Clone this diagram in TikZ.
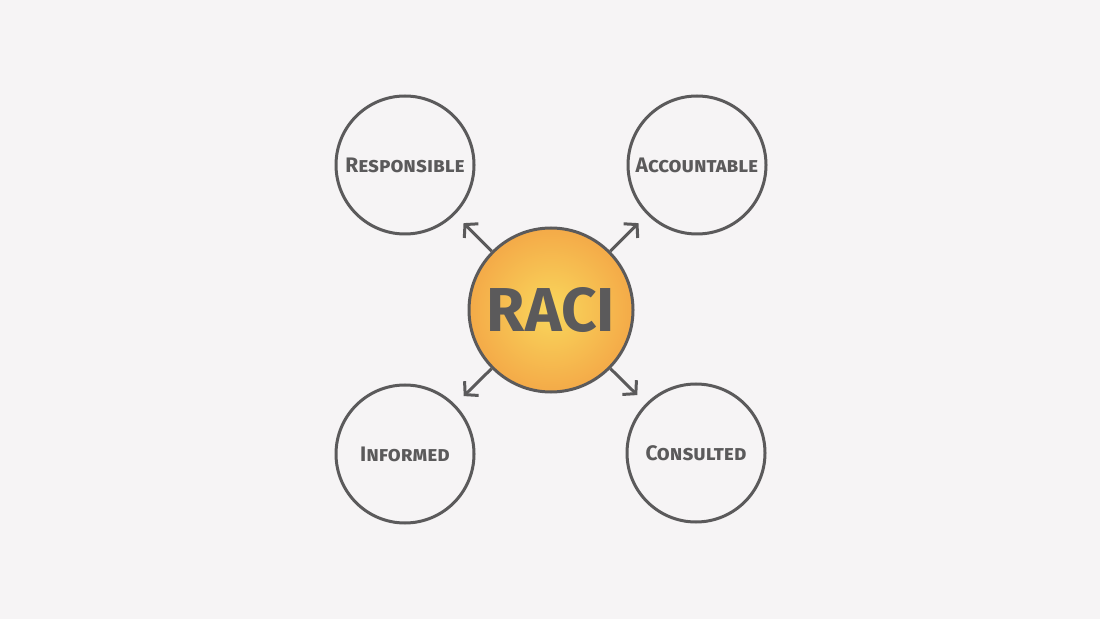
\documentclass[tikz,border=0pt]{standalone}
\usepackage{fontspec}
\setmainfont{Fira Sans}
\usepackage{tikz}
\usetikzlibrary{arrows.meta, calc, positioning}
\definecolor{bggray}{HTML}{F6F4F5}
\definecolor{linegray}{HTML}{5B5A5B}
\definecolor{sunin}{HTML}{F9D75C}
\definecolor{sunout}{HTML}{F4AA48}
\tikzset{
	role/.style={draw=linegray, line width=3pt, circle, minimum size=138pt, inner sep=0pt, text=linegray, font=\fontsize{21}{21}\selectfont\bfseries\addfontfeatures{Letters=SmallCaps}},
	hub/.style={draw=linegray, line width=3pt, circle, minimum size=164pt, inner sep=0pt, shading=radial, inner color=sunin, outer color=sunout, text=linegray, font=\fontsize{62}{62}\selectfont\bfseries}
}
\begin{document}
\begin{tikzpicture}[x=1pt, y=1pt, >={Straight Barb[length=9pt, width=20pt]}]
		\fill[bggray] (0,0) rectangle (1100,619); \useasboundingbox (0,0) rectangle (1100,619);
		\node[hub] (raci) at (551,309) {RACI};
		\node[role] (resp) at (405,454) {Responsible}; \node[role] (acc) at (697,454) {Accountable};
		\node[role] (inf) at (405,165) {Informed}; \node[role] (cons) at (696,166) {Consulted};
		
		\foreach \r in {resp, acc, inf, cons}
			\draw[->, draw=linegray, line width=3pt, shorten >=12pt] (raci) -- (\r);
	\end{tikzpicture}
\end{document}
